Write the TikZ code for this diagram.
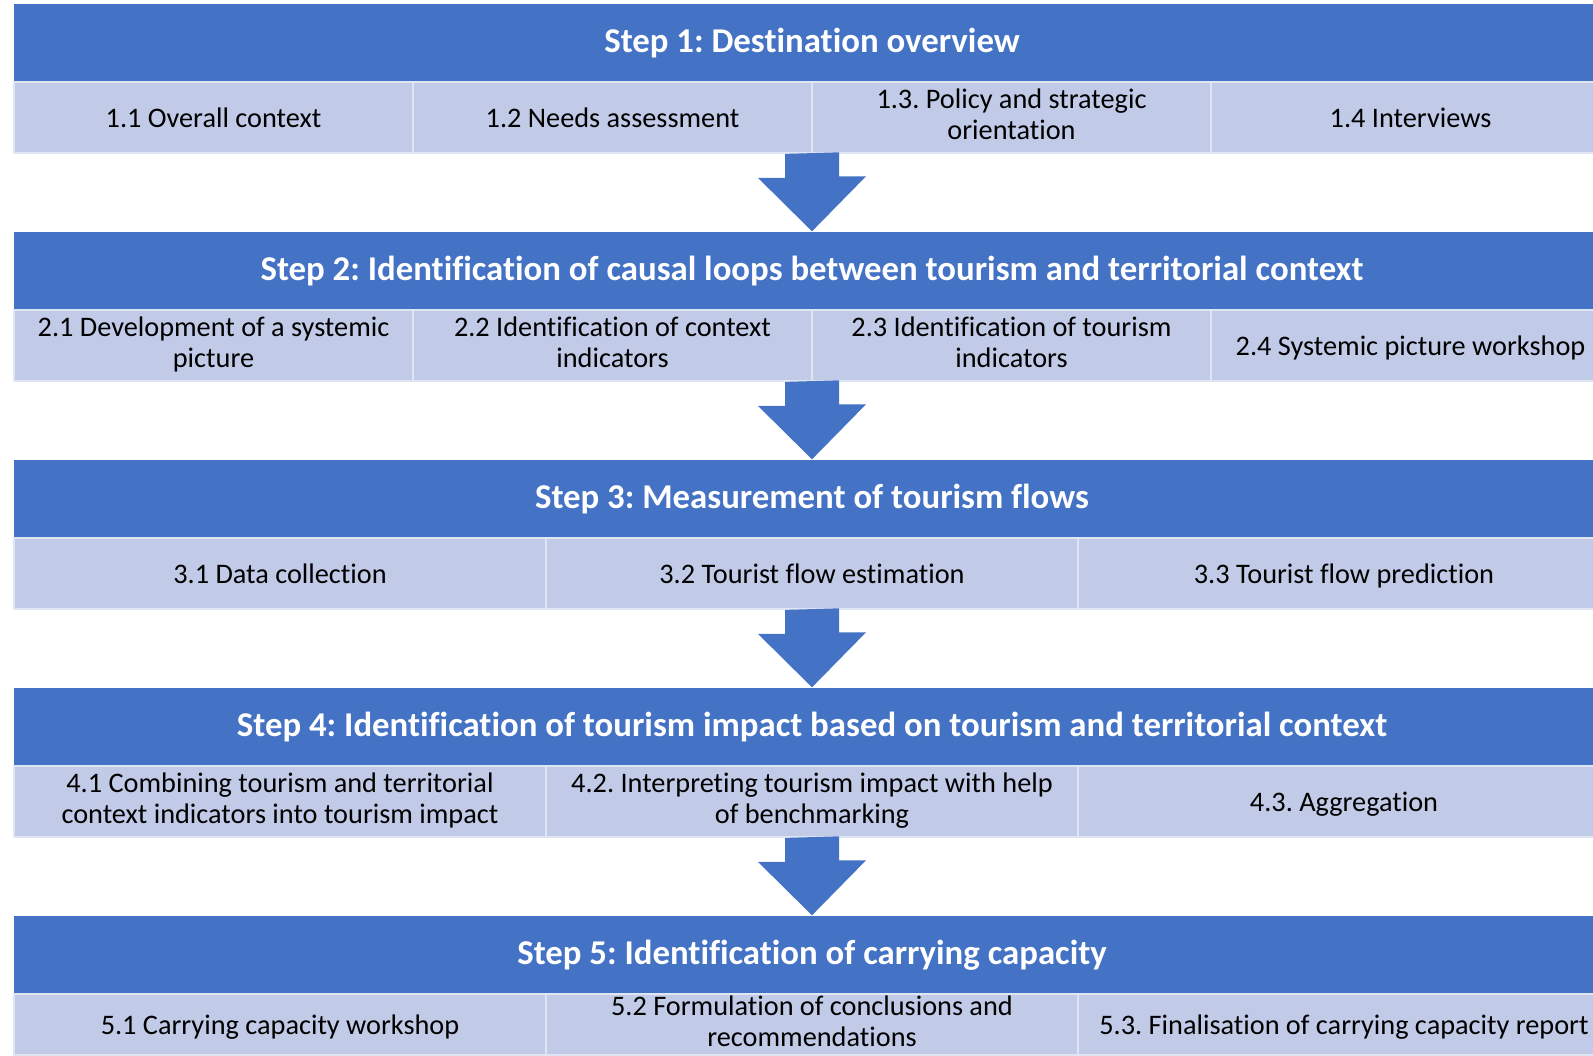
\documentclass[tikz,border=0pt]{standalone}
\usepackage{fontspec}
\setmainfont[Ligatures=CommonOff]{Carlito}
\usetikzlibrary{calc}

\definecolor{headblue}{RGB}{68,114,196}
\definecolor{cellblue}{RGB}{193,203,231}
\definecolor{cellline}{RGB}{224,229,243}

\tikzset{
  stephead/.style={fill=headblue, text=white, font=\bfseries\fontsize{9.9}{12}\selectfont,
    minimum width=15.96cm, minimum height=0.78cm, inner sep=0pt},
  subcell/.style={fill=cellblue, draw=cellline, line width=0.5pt, align=center,
    font=\fontsize{8.05}{8.9}\selectfont, minimum height=0.71cm, inner sep=0pt,
    execute at begin node={\rule{0pt}{7.7pt}},
    execute at end node={\rule[-1.8pt]{0pt}{1.8pt}}},
  quarter/.style={subcell, minimum width=3.99cm},
  third/.style={subcell, minimum width=5.32cm},
  lastrow/.style={third, minimum height=0.61cm},
  downarrow/.style={fill=headblue}
}

% block arrow from the bottom of a row (#1) down to the next step header (#2)
\newcommand{\blockarrow}[2]{%
  \fill[downarrow] (#2.north |- #1.south) ++(-0.27,0) -- ++(0,-0.24) -- ++(-0.27,0)
    -- (#2.north) -- ++(0.54,0.55) -- ++(-0.27,0) -- ++(0,0.24) -- cycle;}

\begin{document}
\frenchspacing
\begin{tikzpicture}
    \useasboundingbox (0,0) rectangle (15.93,-10.55);
    \clip (0,0) rectangle (15.93,-10.55);

    % step 1
    \node[stephead] (h1) at (8.12,-0.43) {Step 1: Destination overview};
    \node[quarter] (s11) at (2.135,-1.175) {1.1 Overall context};
    \node[quarter] (s12) at (6.125,-1.175) {1.2 Needs assessment};
    \node[quarter] (s13) at (10.115,-1.175) {1.3. Policy and strategic\\orientation};
    \node[quarter] (s14) at (14.105,-1.175) {1.4 Interviews};

    % step 2
    \node[stephead] (h2) at (8.12,-2.71) {Step 2: Identification of causal loops between tourism and territorial context};
    \node[quarter] (s21) at (2.135,-3.455) {2.1 Development of a systemic\\picture};
    \node[quarter] (s22) at (6.125,-3.455) {2.2 Identification of context\\indicators};
    \node[quarter] (s23) at (10.115,-3.455) {2.3 Identification of tourism\\indicators};
    \node[quarter] (s24) at (14.105,-3.455) {2.4 Systemic picture workshop};

    % step 3
    \node[stephead] (h3) at (8.12,-4.99) {Step 3: Measurement of tourism flows};
    \node[third] (s31) at (2.80,-5.735) {3.1 Data collection};
    \node[third] (s32) at (8.12,-5.735) {3.2 Tourist flow estimation};
    \node[third] (s33) at (13.44,-5.735) {3.3 Tourist flow prediction};

    % step 4
    \node[stephead] (h4) at (8.12,-7.27) {Step 4: Identification of tourism impact based on tourism and territorial context};
    \node[third] (s41) at (2.80,-8.015) {4.1 Combining tourism and territorial\\context indicators into tourism impact};
    \node[third] (s42) at (8.12,-8.015) {4.2. Interpreting tourism impact with help\\of benchmarking};
    \node[third] (s43) at (13.44,-8.015) {4.3. Aggregation};

    % step 5 (row runs off the bottom edge)
    \node[stephead] (h5) at (8.12,-9.55) {Step 5: Identification of carrying capacity};
    \node[lastrow] (s51) at (2.80,-10.245) {5.1 Carrying capacity workshop};
    \node[lastrow] (s52) at (8.12,-10.245) {5.2 Formulation of conclusions and\\recommendations};
    \node[lastrow] (s53) at (13.44,-10.245) {5.3. Finalisation of carrying capacity report};

    \blockarrow{s12}{h2}
    \blockarrow{s22}{h3}
    \blockarrow{s32}{h4}
    \blockarrow{s42}{h5}
\end{tikzpicture}
\end{document}
